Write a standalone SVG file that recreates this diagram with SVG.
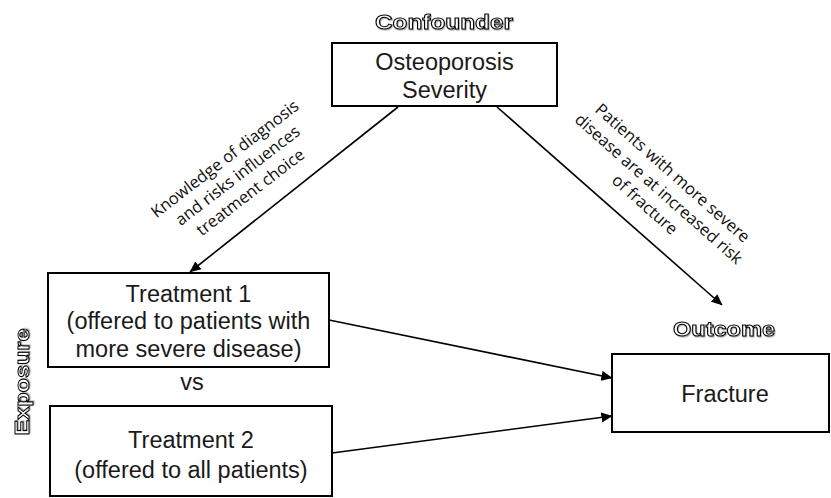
<svg xmlns="http://www.w3.org/2000/svg" width="831" height="498" viewBox="0 0 831 498">
<style>
.box{fill:#fff;stroke:#000;stroke-width:2}
.t{font-family:"Liberation Sans",Arial,sans-serif;font-size:23.5px;fill:#1a1a1a;text-anchor:middle}
.lbl{font-family:"Open Sans","Noto Sans",sans-serif;font-size:16.5px;fill:#111;text-anchor:middle}
.hd{font-family:"Liberation Sans",Arial,sans-serif;font-weight:bold;font-size:20.5px;fill:#fff;stroke:#000;stroke-width:1;text-anchor:middle;filter:url(#sh)}
.con{stroke:#000;stroke-width:1.6;fill:none;marker-end:url(#ah)}
</style>
<defs>
<marker id="ah" viewBox="0 0 10 10" refX="9.5" refY="5" markerWidth="7" markerHeight="7" markerUnits="strokeWidth" orient="auto">
<path d="M0,0.5 L10,5 L0,9.5 z" fill="#000"/>
</marker>
<filter id="sh" x="-10%" y="-30%" width="120%" height="160%">
<feDropShadow dx="0.8" dy="1.2" stdDeviation="0.7" flood-color="#000" flood-opacity="0.3"/>
</filter>
</defs>

<g id="connectors">
<line class="con" x1="398" y1="107" x2="190" y2="272"/>
<line class="con" x1="497" y1="107" x2="722" y2="305"/>
<line class="con" x1="329" y1="320" x2="612" y2="378"/>
<line class="con" x1="332" y1="453" x2="612" y2="416"/>
</g>

<g id="label-left" transform="translate(241,180) rotate(-37.5)">
<text class="lbl" x="0" y="-21">Knowledge of diagnosis</text>
<text class="lbl" x="0" y="0">and risks influences</text>
<text class="lbl" x="0" y="21">treatment choice</text>
</g>

<g id="label-right" transform="translate(655,193) rotate(41.5)">
<text class="lbl" x="0" y="-21">Patients with more severe</text>
<text class="lbl" x="0" y="0">disease are at increased risk</text>
<text class="lbl" x="0" y="21">of fracture</text>
</g>

<g id="confounder">
<text class="hd" x="444" y="29" textLength="138" lengthAdjust="spacingAndGlyphs">Confounder</text>
<rect class="box" x="332" y="43" width="225" height="63"/>
<text class="t" x="444.5" y="70">Osteoporosis</text>
<text class="t" x="444.5" y="98">Severity</text>
</g>

<g id="treatment1">
<rect class="box" x="48" y="273" width="281" height="94"/>
<text class="t" x="188.5" y="302">Treatment 1</text>
<text class="t" x="188.5" y="329">(offered to patients with</text>
<text class="t" x="188.5" y="357">more severe disease)</text>
</g>

<g id="vs">
<text class="t" x="192" y="390">vs</text>
</g>

<g id="treatment2">
<rect class="box" x="50" y="406" width="282" height="90"/>
<text class="t" x="191" y="448">Treatment 2</text>
<text class="t" x="191" y="478">(offered to all patients)</text>
</g>

<g id="exposure">
<text class="hd" transform="translate(29,382) rotate(-90)" x="0" y="0" textLength="107" lengthAdjust="spacingAndGlyphs">Exposure</text>
</g>

<g id="outcome">
<text class="hd" x="724" y="336" textLength="102" lengthAdjust="spacingAndGlyphs">Outcome</text>
<rect class="box" x="612" y="354" width="217" height="78"/>
<text class="t" x="725" y="402">Fracture</text>
</g>
</svg>
